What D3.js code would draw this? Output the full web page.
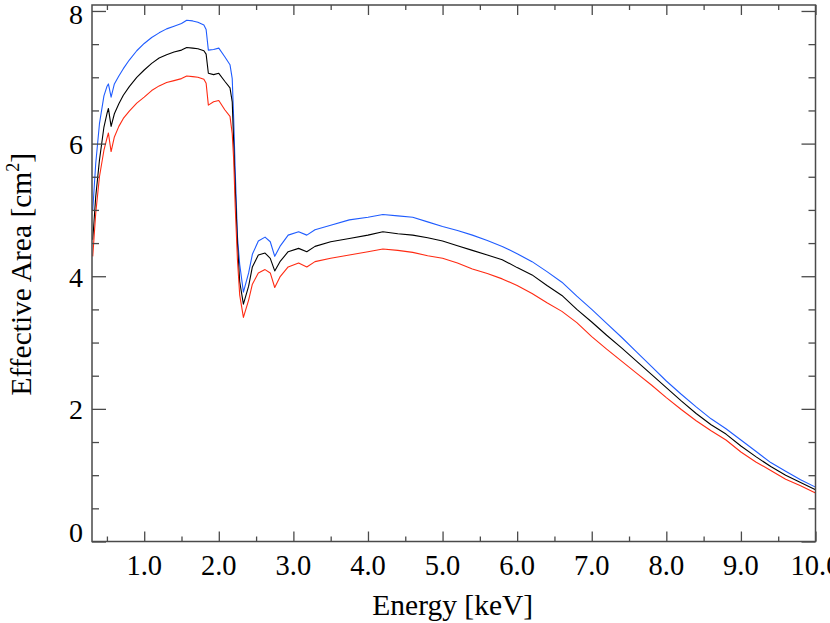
<!DOCTYPE html>
<html>
<head>
<meta charset="utf-8">
<script src="https://cdn.jsdelivr.net/npm/d3@7"></script>
<style>
  html, body { margin: 0; padding: 0; background: #fff; }
  svg { display: block; }
  text { font-family: "Liberation Serif", "Times New Roman", serif; fill: #000; }
</style>
</head>
<body>
<script>
// ---- data ----
const energy = [0.31,0.35,0.40,0.46,0.50,0.52,0.556,0.60,0.66,0.72,0.80,0.90,1.00,1.10,1.20,1.30,1.40,1.50,1.57,1.65,1.72,1.80,1.83,1.86,1.93,2.00,2.08,2.15,2.18,2.20,2.22,2.25,2.28,2.33,2.40,2.45,2.53,2.62,2.69,2.75,2.82,2.93,3.07,3.18,3.29,3.50,3.75,4.00,4.20,4.40,4.60,4.80,5.00,5.20,5.40,5.60,5.80,6.00,6.20,6.40,6.60,6.80,7.00,7.20,7.40,7.60,7.80,8.00,8.20,8.40,8.60,8.80,9.00,9.20,9.40,9.60,9.80,10.0];
const areaBlue  = [5.00,5.70,6.30,6.72,6.86,6.90,6.70,6.90,7.02,7.13,7.26,7.40,7.51,7.60,7.67,7.73,7.77,7.81,7.86,7.85,7.83,7.79,7.72,7.41,7.42,7.44,7.31,7.19,6.98,6.36,5.60,4.60,4.18,3.76,4.05,4.33,4.53,4.59,4.52,4.30,4.45,4.62,4.67,4.62,4.70,4.77,4.85,4.89,4.93,4.91,4.89,4.82,4.75,4.69,4.62,4.54,4.45,4.34,4.22,4.07,3.91,3.70,3.50,3.29,3.08,2.86,2.64,2.42,2.22,2.03,1.85,1.70,1.53,1.36,1.19,1.06,0.93,0.82];
const areaBlack = [4.55,5.20,5.75,6.25,6.45,6.53,6.26,6.45,6.60,6.73,6.86,7.00,7.11,7.21,7.29,7.34,7.38,7.41,7.45,7.44,7.43,7.40,7.35,7.06,7.04,7.06,6.94,6.84,6.63,6.00,5.35,4.50,3.92,3.58,3.85,4.14,4.32,4.35,4.27,4.08,4.22,4.37,4.42,4.37,4.45,4.52,4.57,4.62,4.67,4.64,4.62,4.58,4.53,4.46,4.39,4.32,4.25,4.13,4.02,3.86,3.71,3.50,3.31,3.11,2.92,2.72,2.52,2.32,2.12,1.93,1.76,1.62,1.44,1.28,1.13,1.00,0.89,0.78];
const areaRed   = [4.30,4.95,5.50,5.90,6.08,6.16,5.88,6.10,6.26,6.38,6.49,6.61,6.70,6.80,6.87,6.92,6.95,6.98,7.02,7.01,7.00,6.97,6.91,6.58,6.63,6.65,6.51,6.41,6.15,5.75,5.05,4.25,3.72,3.38,3.64,3.88,4.05,4.10,4.05,3.83,3.99,4.14,4.20,4.14,4.22,4.27,4.32,4.37,4.41,4.39,4.36,4.31,4.27,4.20,4.11,4.04,3.96,3.86,3.74,3.60,3.47,3.30,3.09,2.90,2.72,2.54,2.36,2.17,1.99,1.82,1.67,1.53,1.35,1.20,1.07,0.94,0.84,0.73];

const xMajorTicks = [1,2,3,4,5,6,7,8,9,10];
const xTickLabels = ["1.0","2.0","3.0","4.0","5.0","6.0","7.0","8.0","9.0","10.0"];
const xMinorTicks = [0.5,1.5,2.5,3.5,4.5,5.5,6.5,7.5,8.5,9.5];
const yMajorTicks = [0,2,4,6,8];
const yMinorTicks = [0.5,1,1.5,2.5,3,3.5,4.5,5,5.5,6.5,7,7.5];

const seriesColors = { blue: "#1f5cff", black: "#000000", red: "#ff2a12" };

// ---- layout ----
const W = 830, H = 623;
const L = 92, R = 815.5, T = 5, B = 541.5;

const svg = d3.select("body").append("svg").attr("width", W).attr("height", H);

const x = d3.scaleLinear().domain([0.3, 10]).range([L, R]);
const y = d3.scaleLinear().domain([0, 8.09]).range([B, T]);

svg.append("defs").append("clipPath").attr("id", "plotclip")
  .append("rect").attr("x", L).attr("y", T).attr("width", R - L).attr("height", B - T);

const line = d3.line().x(d => x(d[0])).y(d => y(d[1]));
const g = svg.append("g").attr("clip-path", "url(#plotclip)");
[["blue", areaBlue], ["black", areaBlack], ["red", areaRed]].forEach(([k, arr]) => {
  g.append("path")
    .datum(energy.map((e, i) => [e, arr[i]]))
    .attr("d", line)
    .attr("fill", "none")
    .attr("stroke", seriesColors[k])
    .attr("stroke-width", 1.1)
    .attr("stroke-linejoin", "round");
});

// ---- axes (ticks on all four sides, pointing inward) ----
const axisColor = "#4a4a4a";
const axG = svg.append("g");
function addAxis(axis, tx, ty) {
  const a = axG.append("g").attr("transform", `translate(${tx},${ty})`).call(axis);
  a.select(".domain").remove();
  a.selectAll("line").attr("stroke", axisColor).attr("stroke-width", 1.3);
  a.selectAll("text").remove();
}
// bottom
addAxis(d3.axisTop(x).tickValues(xMajorTicks).tickSize(10), 0, B);
addAxis(d3.axisTop(x).tickValues(xMinorTicks).tickSize(5), 0, B);
// top
addAxis(d3.axisBottom(x).tickValues(xMajorTicks).tickSize(10), 0, T);
addAxis(d3.axisBottom(x).tickValues(xMinorTicks).tickSize(5), 0, T);
// left
addAxis(d3.axisRight(y).tickValues(yMajorTicks).tickSize(14), L, 0);
addAxis(d3.axisRight(y).tickValues(yMinorTicks).tickSize(7), L, 0);
// right
addAxis(d3.axisLeft(y).tickValues(yMajorTicks).tickSize(14), R, 0);
addAxis(d3.axisLeft(y).tickValues(yMinorTicks).tickSize(7), R, 0);

svg.append("rect").attr("x", L).attr("y", T).attr("width", R - L).attr("height", B - T)
  .attr("fill", "none").attr("stroke", axisColor).attr("stroke-width", 1.5);

// tick labels
svg.append("g").selectAll("text").data(xMajorTicks).join("text")
  .attr("x", d => x(d)).attr("y", 575)
  .attr("text-anchor", "middle").attr("font-size", 28.5)
  .text((d, i) => xTickLabels[i]);

svg.append("g").selectAll("text").data(yMajorTicks).join("text")
  .attr("x", 83)
  .attr("y", d => Math.max(T + 9, Math.min(B - 9, y(d) + 1)))
  .attr("dy", "0.34em")
  .attr("text-anchor", "end").attr("font-size", 28)
  .text(d => d);

// axis titles
svg.append("text")
  .attr("x", (L + R) / 2 - 1).attr("y", 615)
  .attr("text-anchor", "middle").attr("font-size", 29.5)
  .text("Energy [keV]");

const yt = svg.append("text")
  .attr("transform", `translate(31,${(T + B) / 2 + 1}) rotate(-90)`)
  .attr("text-anchor", "middle").attr("font-size", 29.5);
yt.append("tspan").text("Effective Area [cm");
yt.append("tspan").attr("font-size", 18).attr("dy", -12).text("2");
yt.append("tspan").attr("dy", 12).text("]");
</script>
</body>
</html>
